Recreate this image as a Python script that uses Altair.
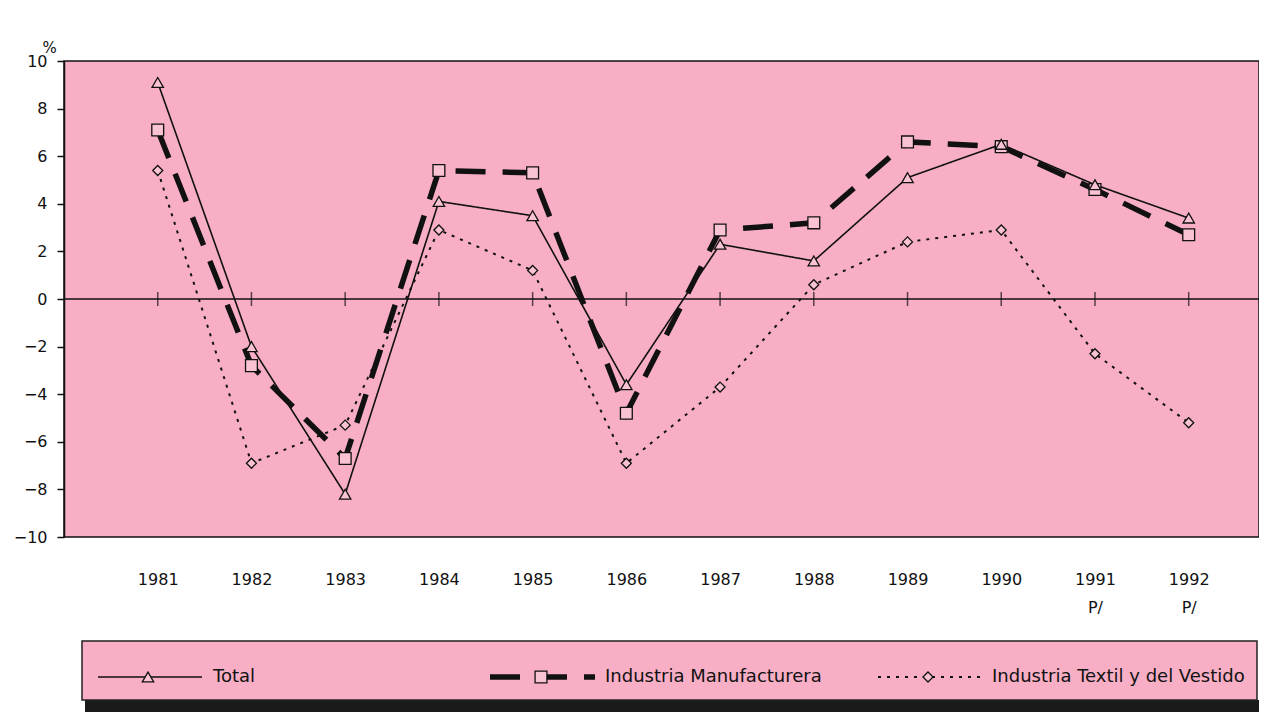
import altair as alt
import pandas as pd

years = [1981, 1982, 1983, 1984, 1985, 1986, 1987, 1988, 1989, 1990, 1991, 1992]
total = [9.1, -2.0, -8.2, 4.1, 3.5, -3.6, 2.3, 1.6, 5.1, 6.5, 4.8, 3.4]
manuf = [7.1, -2.8, -6.7, 5.4, 5.3, -4.8, 2.9, 3.2, 6.6, 6.4, 4.6, 2.7]
textil = [5.4, -6.9, -5.3, 2.9, 1.2, -6.9, -3.7, 0.6, 2.4, 2.9, -2.3, -5.2]
series_names = ["Total", "Industria Manufacturera", "Industria Textil y del Vestido"]
series_values = [total, manuf, textil]

PINK = "#F8AFC5"
FONT = "DejaVu Sans"
W, H = 1195, 476

rows = []
for name, vals in zip(series_names, series_values):
    for y, v in zip(years, vals):
        rows.append({"serie": name, "anio": y, "valor": v})
df = pd.DataFrame(rows)

styles = {
    "Total": dict(width=1.6, dash=[1, 0], shape="triangle-up", size=130),
    "Industria Manufacturera": dict(width=5.5, dash=[30, 17], shape="square", size=140),
    "Industria Textil y del Vestido": dict(width=2, dash=[3, 6], shape="diamond", size=100),
}

x_scale = alt.Scale(domain=[1980, 1992.75], nice=False, zero=False)
y_scale = alt.Scale(domain=[-10, 10], nice=False, zero=False)

x_axis = alt.Axis(
    values=years, title=None, domain=False, ticks=False, grid=False,
    labelExpr="datum.value >= 1991 ? [format(datum.value, 'd'), 'P/'] : format(datum.value, 'd')",
    labelPadding=34, labelFontSize=16, labelFont=FONT, labelColor="#111",
    labelLineHeight=28, labelBaseline="top",
)
y_axis = alt.Axis(
    values=list(range(-10, 11, 2)), title="%", titleAngle=0, titleX=-22, titleY=-14,
    titleAlign="left", titleBaseline="middle", titleFontSize=15, titleFont=FONT,
    titleFontWeight="normal", titleColor="#111",
    grid=False, domain=True, domainColor="#111", domainWidth=1.5,
    tickSize=7, tickColor="#111", tickWidth=1.5,
    labelFontSize=16, labelFont=FONT, labelColor="#111", labelPadding=10,
)

base = alt.Chart(df)

zero_rule = alt.Chart(pd.DataFrame({"z": [0]})).mark_rule(color="#111", strokeWidth=1.5).encode(
    y=alt.Y("z:Q", scale=y_scale, axis=y_axis)
)
zero_ticks = alt.Chart(pd.DataFrame({"anio": years, "z": [0] * len(years)})).mark_tick(
    color="#111", thickness=1.5, size=14, orient="vertical"
).encode(
    x=alt.X("anio:Q", scale=x_scale, axis=x_axis),
    y=alt.Y("z:Q", scale=y_scale),
)

layers = [zero_rule, zero_ticks]
order = ["Industria Textil y del Vestido", "Industria Manufacturera", "Total"]
for name in order:
    st = styles[name]
    layers.append(
        base.transform_filter(alt.datum.serie == name).mark_line(
            color="#111", strokeWidth=st["width"], strokeDash=st["dash"]
        ).encode(
            x=alt.X("anio:Q", scale=x_scale),
            y=alt.Y("valor:Q", scale=y_scale),
        )
    )
for name in order:
    st = styles[name]
    layers.append(
        base.transform_filter(alt.datum.serie == name).mark_point(
            shape=st["shape"], size=st["size"], filled=True, fill="#FAC3D3",
            stroke="#111", strokeWidth=1.3, opacity=1
        ).encode(
            x=alt.X("anio:Q", scale=x_scale),
            y=alt.Y("valor:Q", scale=y_scale),
        )
    )

# Legend box (decoration, pixel positions relative to the plot origin)
one = pd.DataFrame({"k": [0]})
LY = 616
layers.append(
    alt.Chart(one).mark_rect(fill="#1a1a1a").encode(
        x=alt.value(21), x2=alt.value(W), y=alt.value(639), y2=alt.value(651)
    )
)
layers.append(
    alt.Chart(one).mark_rect(fill=PINK, stroke="#222", strokeWidth=1.5).encode(
        x=alt.value(18), x2=alt.value(W - 2), y=alt.value(580), y2=alt.value(639)
    )
)
legend_layout = {
    "Total": (34, 138, 84, 149),
    "Industria Manufacturera": (426, 531, 477, 541),
    "Industria Textil y del Vestido": (814, 916, 864, 928),
}
for name in series_names:
    st = styles[name]
    a, b, m, t = legend_layout[name]
    item = pd.DataFrame({"serie": [name]})
    layers.append(
        alt.Chart(item).mark_rule(color="#111", strokeWidth=st["width"], strokeDash=st["dash"]).encode(
            x=alt.value(a), x2=alt.value(b), y=alt.value(LY)
        )
    )
    layers.append(
        alt.Chart(item).mark_point(
            shape=st["shape"], size=st["size"], filled=True, fill="#FAC3D3",
            stroke="#111", strokeWidth=1.3, opacity=1
        ).encode(x=alt.value(m), y=alt.value(LY))
    )
    layers.append(
        alt.Chart(item).mark_text(
            align="left", baseline="middle", font=FONT, fontSize=18, color="#111"
        ).encode(x=alt.value(t), y=alt.value(LY), text="serie:N")
    )

chart = alt.layer(*layers).properties(
    width=W, height=H,
    autosize=alt.AutoSizeParams(type="none"),
    padding={"left": 56, "top": 53, "right": 0, "bottom": 176},
    view=alt.ViewBackground(fill=PINK, stroke="#111", strokeWidth=1.5),
).configure(background="white")

chart.save("out.html", embed_options={"renderer": "svg", "actions": False})
